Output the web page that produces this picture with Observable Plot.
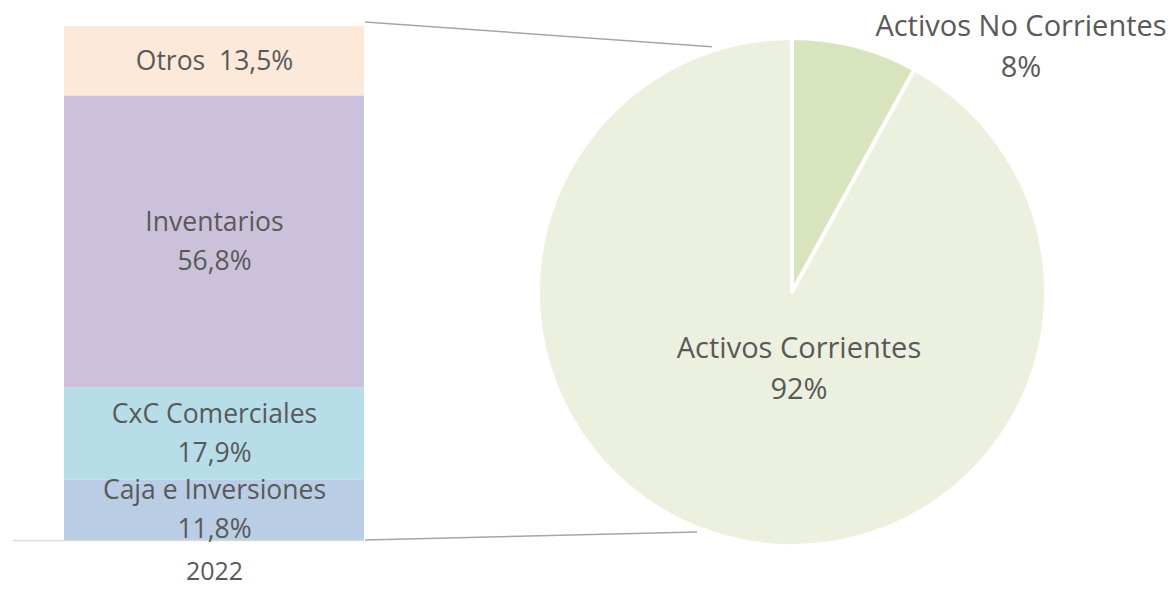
<!DOCTYPE html>
<html><head><meta charset="utf-8">
<script src="https://cdn.jsdelivr.net/npm/d3@7"></script>
<script src="https://cdn.jsdelivr.net/npm/@observablehq/plot@0.6"></script>
<style>html,body{margin:0;padding:0;background:#fff;overflow:hidden}</style>
</head><body><div id="chart"></div>
<script>
// ---- data ----
const years = ["2022"];
const barCategories = ["Caja e Inversiones", "CxC Comerciales", "Inventarios", "Otros"];
const barValues = [11.8, 17.9, 56.8, 13.5];
const barLabels = ["Caja e Inversiones\n11,8%", "CxC Comerciales\n17,9%", "Inventarios\n56,8%", "Otros  13,5%"];
const barColors = ["#b9cde5", "#b7dee8", "#ccc1da", "#fde9d9"];
const pieCategories = ["Activos No Corrientes", "Activos Corrientes"];
const pieValues = [8, 92];
const pieLabels = ["Activos No Corrientes\n8%", "Activos Corrientes\n92%"];
const pieColors = ["#d7e4bd", "#ebf1de"];

const barData = barCategories.map((c, i) => ({year: years[0], category: c, value: barValues[i], label: barLabels[i]}));

// ---- layout ----
const W = 1176, H = 589;
const M = {left: 64, right: 812, top: 26, bottom: 49};
const pie = {cx: 792, cy: 292, r: 254};
const pieLabelPos = [{dx: 229, dy: -246}, {dx: 7, dy: 76}];
const connectorAngles = [-18.1, 201.6]; // degrees, clockwise from 12 o'clock
const fontFamily = "'Open Sans', sans-serif";
const fontSize = 26.5;
const pieFontSize = 29;
const lineGap = 39;
const pieLineGap = 41;
const textColor = "#595959";

function pieMark(index, scales, values, dimensions) {
  const d = dimensions || {width: W, height: H, marginLeft: M.left, marginRight: M.right, marginTop: M.top, marginBottom: M.bottom};
  const g = d3.create("svg:g");
  const bx = d.width - d.marginRight;
  const yTop = d.marginTop, yBot = d.height - d.marginBottom;
  const R = pie.r + 4;
  const ends = connectorAngles.map(a => {
    const t = a * Math.PI / 180;
    return [pie.cx + R * Math.sin(t), pie.cy - R * Math.cos(t)];
  });
  g.append("line").attr("x1", bx + 1).attr("y1", yTop - 4).attr("x2", ends[0][0]).attr("y2", ends[0][1])
    .attr("stroke", "#a6a6a6").attr("stroke-width", 1.5);
  g.append("line").attr("x1", bx + 1).attr("y1", yBot).attr("x2", ends[1][0]).attr("y2", ends[1][1])
    .attr("stroke", "#a6a6a6").attr("stroke-width", 1.5);

  const arcs = d3.pie().sort(null).value(v => v)(pieValues);
  const arc = d3.arc().innerRadius(0).outerRadius(pie.r);
  const gp = g.append("g").attr("transform", `translate(${pie.cx},${pie.cy})`);
  gp.selectAll("path").data(arcs).join("path")
    .attr("d", arc)
    .attr("fill", (a, i) => pieColors[i])
    .attr("stroke", "#fff").attr("stroke-width", 4).attr("stroke-linejoin", "round");

  pieLabels.forEach((lab, i) => {
    const lines = lab.split("\n");
    const t = g.append("text")
      .attr("x", pie.cx + pieLabelPos[i].dx)
      .attr("y", pie.cy + pieLabelPos[i].dy)
      .attr("text-anchor", "middle")
      .attr("fill", textColor)
      .attr("font-family", fontFamily)
      .attr("font-size", pieFontSize);
    lines.forEach((ln, j) => {
      t.append("tspan").attr("x", pie.cx + pieLabelPos[i].dx)
        .attr("dy", j === 0 ? (0.35 * pieFontSize - (lines.length - 1) / 2 * pieLineGap) : pieLineGap)
        .text(ln);
    });
  });
  return g.node();
}

const chart = Plot.plot({
  width: W, height: H,
  marginLeft: M.left, marginRight: M.right, marginTop: M.top, marginBottom: M.bottom,
  style: {fontFamily, fontSize: fontSize + "px", color: textColor, background: "#fff"},
  x: {type: "band", domain: years, padding: 0, axis: null, label: null},
  y: {domain: [0, 100], axis: null},
  color: {type: "ordinal", domain: barCategories, range: barColors},
  marks: [
    Plot.barY(barData, {x: "year", y: "value", fill: "category"}),
    Plot.ruleY([0], {stroke: "#d9d9d9", strokeWidth: 1.5, insetLeft: -51}),
    Plot.text(barData, Plot.stackY({x: "year", y: "value", text: "label", fill: textColor, fontSize: fontSize, lineHeight: lineGap / fontSize, dy: -4})),
    Plot.axisX({tickSize: 0, tickPadding: 22, fontSize: 25, fill: textColor, label: null}),
    pieMark
  ]
});
document.getElementById("chart").appendChild(chart);
</script>
</body></html>
